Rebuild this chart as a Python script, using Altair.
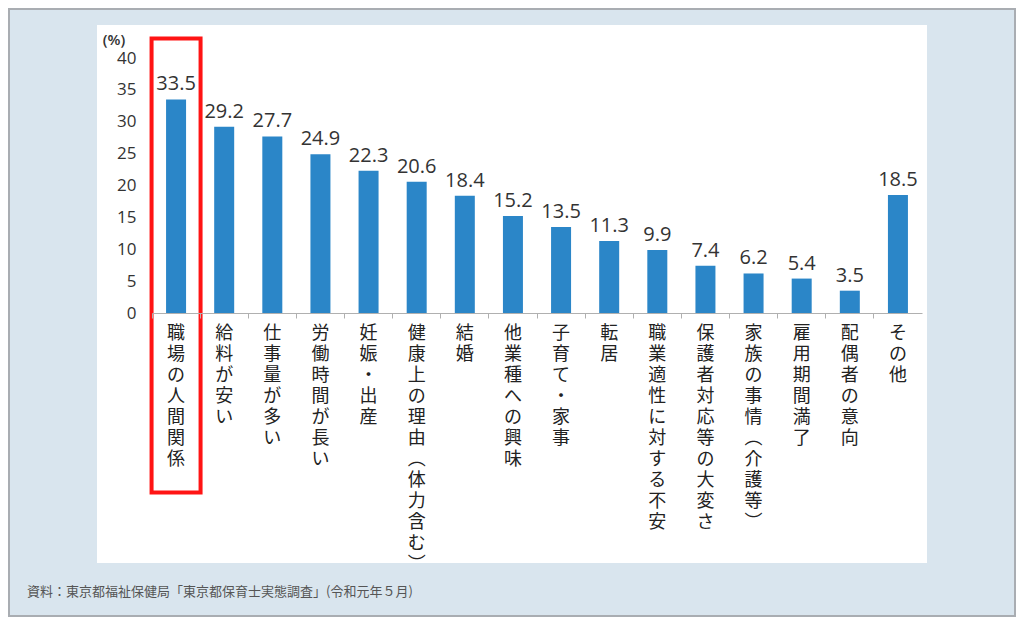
import altair as alt
import pandas as pd

categories = ["職場の人間関係", "給料が安い", "仕事量が多い", "労働時間が長い", "妊娠・出産",
              "健康上の理由(体力含む)", "結婚", "他業種への興味", "子育て・家事", "転居",
              "職業適性に対する不安", "保護者対応等の大変さ", "家族の事情(介護等)",
              "雇用期間満了", "配偶者の意向", "その他"]
values = [33.5, 29.2, 27.7, 24.9, 22.3, 20.6, 18.4, 15.2, 13.5, 11.3, 9.9, 7.4, 6.2, 5.4, 3.5, 18.5]
highlight = ["職場の人間関係"]
y_ticks = [0, 5, 10, 15, 20, 25, 30, 35, 40]
unit_label = "(%)"
source_text = "資料：東京都福祉保健局「東京都保育士実態調査」(令和元年５月)"

df = pd.DataFrame({"cat": categories, "val": values})
hl = pd.DataFrame({"cat": highlight})
one = pd.DataFrame({"k": [0]})

JP = "Noto Sans CJK JP"
NUM = "Open Sans"

xenc = alt.X("cat:N", sort=categories,
             scale=alt.Scale(paddingInner=0, paddingOuter=0),
             axis=alt.Axis(title=None, labelAngle=0, labelBaseline="top", labelAlign="center",
                           labelExpr="split(replace(replace(datum.label, '(', '︵'), ')', '︶'), '')",
                           labelLineHeight=21, labelFont=JP, labelFontSize=18, labelColor="#222",
                           labelPadding=6, labelOverlap=False, labelBound=False, labelFlush=False,
                           ticks=True, tickSize=5, tickColor="#b0b0b0", bandPosition=0,
                           domainColor="#b0b0b0", domainWidth=1, zindex=1))
yenc = alt.Y("val:Q", scale=alt.Scale(domain=[0, 40], nice=False),
             axis=alt.Axis(title=None, values=y_ticks, tickCount=9, grid=False, domain=False,
                           ticks=False, labelFont=NUM, labelFontSize=17, labelColor="#333",
                           labelPadding=16, labelOverlap=False, labelBound=False,
                           labelFlush=False, zindex=1))

border = alt.Chart(one).mark_rect(fill="transparent", stroke="#a9adb2", strokeWidth=2).encode(
    x=alt.value(-143), x2=alt.value(863), y=alt.value(-49), y2=alt.value(558))
panel = alt.Chart(one).mark_rect(fill="white").encode(
    x=alt.value(-55), x2=alt.value(775), y=alt.value(-33), y2=alt.value(505))

bars = alt.Chart(df).mark_bar(size=20, color="#2b86c8").encode(x=xenc, y=yenc)
labels = alt.Chart(df).mark_text(font=NUM, fontSize=20, color="#333", baseline="alphabetic",
                                 dy=-9).encode(
    x=xenc, y=yenc, text=alt.Text("val:Q", format=".1f"))
box = alt.Chart(hl).mark_bar(filled=False, stroke="#ff1414", strokeWidth=4, size=49).encode(
    x=alt.X("cat:N", sort=categories), y=alt.value(-19.5), y2=alt.value(434.5))
unit = alt.Chart(one).mark_text(font=NUM, fontSize=15, fontWeight=600, color="#333",
                                align="center", baseline="middle").encode(
    x=alt.value(-38), y=alt.value(-18), text=alt.value(unit_label))
src = alt.Chart(one).mark_text(font=JP, fontSize=13, color="#555", align="left",
                               baseline="middle").encode(
    x=alt.value(-125), y=alt.value(534), text=alt.value(source_text))

chart = alt.layer(border, panel, bars, labels, box, unit, src).properties(
    width=770, height=255,
    autosize=alt.AutoSizeParams(type="none"),
    padding={"left": 144, "top": 50, "right": 94, "bottom": 304},
    background="#d9e5ee",
).configure_view(stroke=None)

chart.save("out.html", embed_options={"renderer": "svg", "actions": False})
